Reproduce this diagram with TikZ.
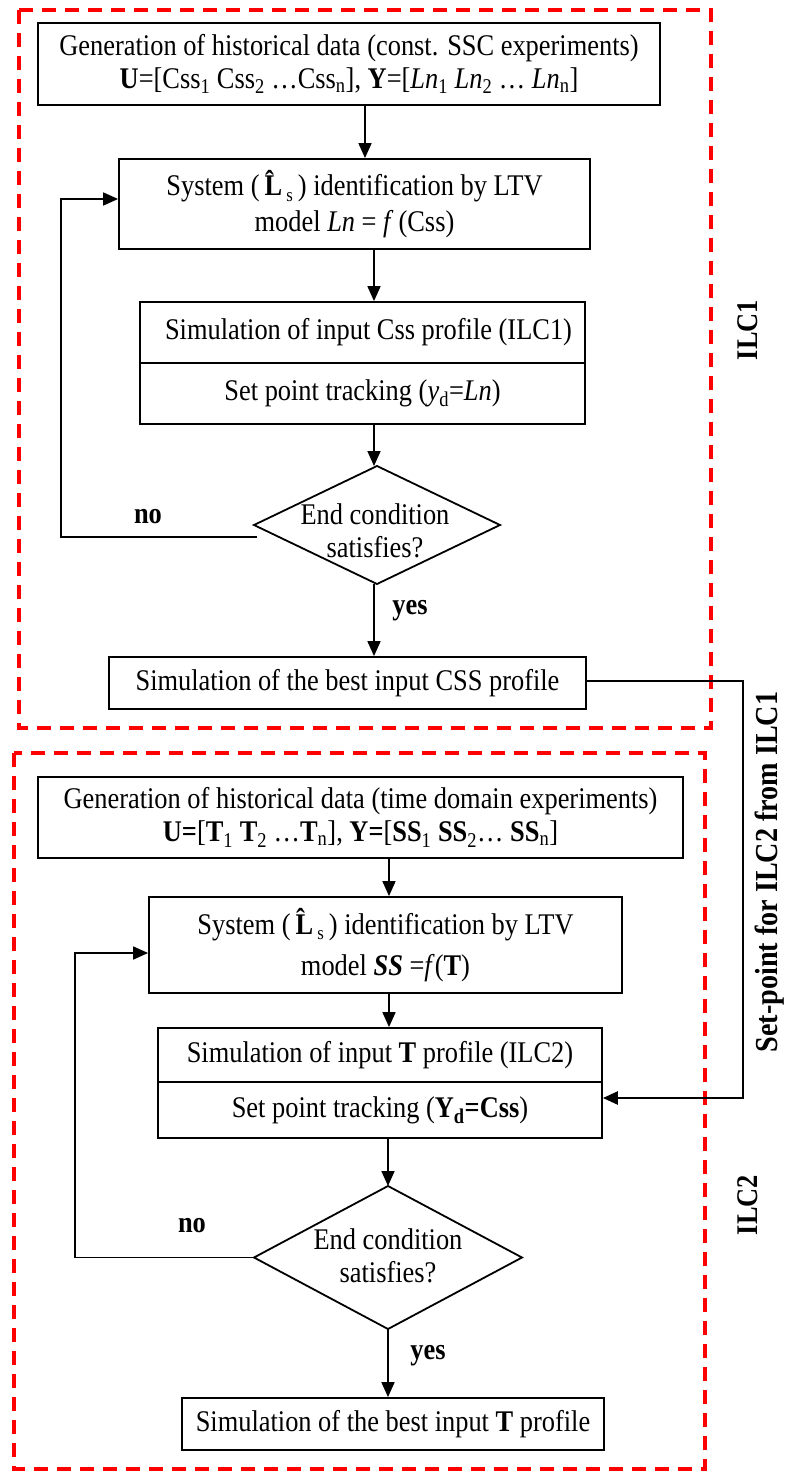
\documentclass[tikz,border=0pt]{standalone}
\usepackage{fontspec}
\setmainfont{Liberation Serif}[FakeStretch=0.88]
\usetikzlibrary{arrows.meta}
\newcommand{\lowsub}[1]{\raisebox{-0.4ex}{\fontsize{19}{19}\selectfont #1}}
\tikzset{
  txt/.style={font=\fontsize{30}{33}\selectfont},
  box/.style={txt, draw, line width=1.8pt, inner sep=0pt, align=center},
  decline/.style={draw, line width=1.8pt, line join=miter},
  arr/.style={line width=1.7pt, -{Triangle[length=15pt,width=13pt]}},
  arrthick/.style={line width=2.6pt, -{Triangle[length=15pt,width=13pt]}},
  redbox/.style={red, line width=3.3pt, dash pattern=on 14pt off 9pt},
  lbl/.style={font=\fontsize{30}{33}\selectfont\bfseries},
}
\begin{document}
\begin{tikzpicture}[x=1pt,y=-1pt]
\useasboundingbox (0,0) rectangle (787,1472);
% red dashed frames
\draw[redbox] (19,10) rectangle (711,728);
\draw[redbox] (14,753) rectangle (705,1469);

% ---- ILC1 ----
\node[box, minimum width=622pt, minimum height=82pt] (a1) at (349,64)
  {Generation of historical data (const. SSC experiments)\\
   \textbf{U}=[Css\textsubscript{1} Css\textsubscript{2} \ldots Css\textsubscript{n}], \textbf{Y}=[\textit{Ln}\textsubscript{1} \textit{Ln}\textsubscript{2} \ldots{} \textit{Ln}\textsubscript{n}]};
\node[box, minimum width=471pt, minimum height=90pt] (a2) at (354.5,204)
  {System (\,\textbf{\^{L}}\lowsub{s}\,) identification by LTV\\[3pt]
   model \textit{Ln} = \textit{f}\,(Css)};
\node[box, minimum width=445pt, minimum height=61pt] (a3a) at (362.5,332.5)
  {\raisebox{8pt}{\hspace*{12pt}Simulation of input Css profile (ILC1)}};
\node[box, minimum width=445pt, minimum height=61pt] (a3b) at (362.5,393.5)
  {Set point tracking (\textit{y}\textsubscript{d}=\textit{Ln})};
% decision 1 (diamond drawn from its four corners)
\coordinate (a4n) at (377,466);
\coordinate (a4e) at (500,525);
\coordinate (a4s) at (377,584);
\coordinate (a4w) at (254,525);
\draw[decline] (a4n) -- (a4e) -- (a4s) -- (a4w) -- cycle;
\node[txt, align=center] (a4) at (375,531) {End condition\\satisfies?};
\node[box, minimum width=477pt, minimum height=52pt] (a5) at (347.5,683)
  {Simulation of the best input CSS profile};
\coordinate (c1) at (365,0);
\coordinate (c2) at (374,0);
\coordinate (fb1) at (61,0);
\draw[arr] (a1.south -| c1) -- (a2.north -| c1);
\draw[arr] (a2.south -| c2) -- (a3a.north -| c2);
\draw[arr] (a3b.south -| c2) -- (a4n -| c2);
\draw[arr] (a4s -| c2) -- (a5.north -| c2);
\draw[arr] ([xshift=3pt,yshift=-12pt]a4w) -- ([yshift=-12pt]a4w -| fb1) -- ([yshift=5pt]a2.west -| fb1) -- ([yshift=5pt]a2.west);
\node[lbl] (no1) at (148,517) {no};
\node[lbl] (yes1) at (410,611) {yes};

% ---- ILC2 ----
\node[box, minimum width=645pt, minimum height=81pt] (b1) at (360.5,817.5)
  {Generation of historical data (time domain experiments)\\
   \textbf{U=}[\textbf{T}\textsubscript{1} \textbf{T}\textsubscript{2} \ldots\textbf{T}\textsubscript{n}], \textbf{Y=}[\textbf{SS}\textsubscript{1} \textbf{SS}\textsubscript{2}\ldots{} \textbf{SS}\textsubscript{n}]};
\node[box, minimum width=473pt, minimum height=96pt] (b2) at (385.5,945)
  {System (\,\textbf{\^{L}}\lowsub{s}\,) identification by LTV\\[8pt]
   model \textbf{\textit{SS}} =\textit{f}(\textbf{T})};
\node[box, minimum width=444pt, minimum height=54pt] (b3a) at (380,1055)
  {\raisebox{4pt}{Simulation of input \textbf{T} profile (ILC2)}};
\node[box, minimum width=444pt, minimum height=56pt] (b3b) at (380,1110)
  {\raisebox{3pt}{Set point tracking (\textbf{Y\textsubscript{d}=Css})}};
% decision 2
\coordinate (b4n) at (388,1186);
\coordinate (b4e) at (522,1257.5);
\coordinate (b4s) at (388,1329);
\coordinate (b4w) at (254,1257.5);
\draw[decline] (b4n) -- (b4e) -- (b4s) -- (b4w) -- cycle;
\node[txt, align=center] (b4) at (388,1256) {End condition\\satisfies?};
\node[box, minimum width=422pt, minimum height=52pt] (b5) at (393,1424)
  {Simulation of the best input \textbf{T} profile};
\coordinate (c3) at (389,0);
\coordinate (fb2) at (75,0);
\draw[arr] (b1.south -| c3) -- (b2.north -| c3);
\draw[arr] (b2.south -| c3) -- (b3a.north -| c3);
\draw[arr] (b3b.south -| b4n) -- (b4n);
\draw[arr] (b4s) -- (b5.north -| b4s);
\draw[arr] (b4w) -- (b4w -| fb2) -- ([yshift=-8pt]b2.west -| fb2) -- ([yshift=-8pt]b2.west);
\node[lbl] (no2) at (192,1226) {no};
\node[lbl] (yes2) at (428,1356) {yes};

% ---- link and side labels ----
\coordinate (sp) at (743,0);
\draw[arrthick] ([yshift=2pt]a5.east) -- ([yshift=2pt]a5.east -| sp) -- ([yshift=12pt]b3b.east -| sp) -- ([yshift=12pt]b3b.east);
\node[lbl, rotate=90] (ilc1) at (748,330) {ILC1};
\node[lbl, rotate=90] (ilc2) at (748,1205) {ILC2};
\node[lbl, rotate=90, inner sep=0pt, font=\fontsize{32}{34}\selectfont\bfseries] (spl) at (770,872) {Set-point for ILC2 from ILC1};
\end{tikzpicture}
\end{document}
